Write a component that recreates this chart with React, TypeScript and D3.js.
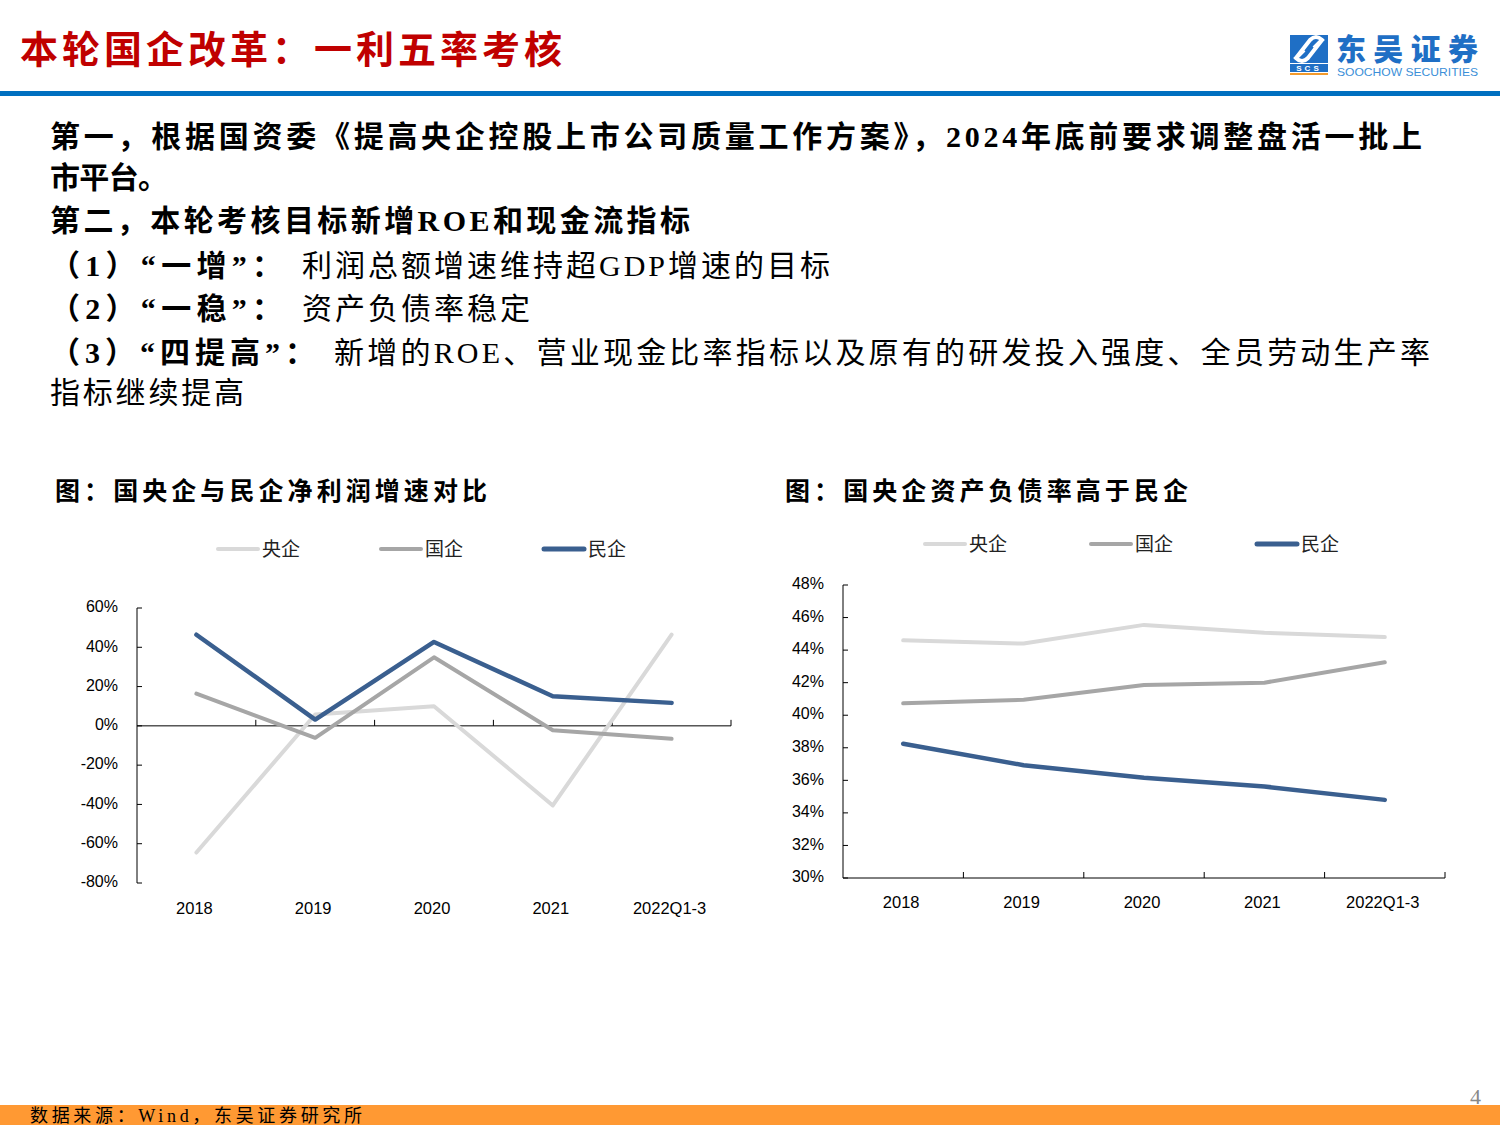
import React, { useEffect, useRef } from 'react';
import * as d3 from 'd3';

const categories = ['2018', '2019', '2020', '2021', '2022Q1-3'];
const seriesNames = ['央企', '国企', '民企'];
const seriesColors = ['#d9d9d9', '#a6a6a6', '#3a5f8f'];

// 净利润增速 (%)
const profitCentral = [-64.5, 5.8, 10.0, -40.5, 46.4];
const profitState = [16.4, -6.1, 34.9, -2.2, -6.6];
const profitPrivate = [46.4, 3.2, 42.7, 15.1, 11.7];
const profitTicks = [60, 40, 20, 0, -20, -40, -60, -80];

// 资产负债率 (%)
const debtCentral = [44.6, 44.4, 45.55, 45.07, 44.8];
const debtState = [40.73, 40.95, 41.85, 42.0, 43.25];
const debtPrivate = [38.25, 36.93, 36.16, 35.62, 34.8];
const debtTicks = [48, 46, 44, 42, 40, 38, 36, 34, 32, 30];

const CJK = '"Noto Sans CJK SC", sans-serif';
const MIXED = '"Liberation Serif", "Noto Sans CJK SC", serif';
const NUM = '"Liberation Sans", Arial, sans-serif';

type ChartCfg = {
  x0: number; x1: number; y0: number; y1: number;
  domain: [number, number];
  ticks: number[];
  series: number[][];
  zeroAxis: boolean;
  catY: number;
  legendX: number[];
  legendY: number;
};

function drawChart(g: d3.Selection<SVGGElement, unknown, null, undefined>, c: ChartCfg) {
  const x = d3.scaleBand<string>().domain(categories).range([c.x0, c.x1]);
  const y = d3.scaleLinear().domain(c.domain).range([c.y1, c.y0]);
  const baseY = c.zeroAxis ? y(0) : y(c.domain[0]);

  // y axis
  g.append('line').attr('x1', c.x0).attr('x2', c.x0).attr('y1', y(c.domain[1])).attr('y2', y(c.domain[0]))
    .attr('stroke', '#000').attr('stroke-width', 1);
  g.selectAll('.ytick').data(c.ticks).enter().append('line')
    .attr('x1', c.x0).attr('x2', c.x0 + 5).attr('y1', d => y(d)).attr('y2', d => y(d))
    .attr('stroke', '#000');
  g.selectAll('.ylab').data(c.ticks).enter().append('text')
    .attr('x', c.x0 - 19).attr('y', d => y(d)).attr('text-anchor', 'end')
    .attr('dominant-baseline', 'middle').attr('font-family', NUM).attr('font-size', 16)
    .attr('fill', '#000').text(d => `${d}%`);

  // x axis
  g.append('line').attr('x1', c.x0).attr('x2', c.x1).attr('y1', baseY).attr('y2', baseY)
    .attr('stroke', '#000').attr('stroke-width', 1);
  const bounds = categories.map((cat) => (x(cat) as number) + x.bandwidth());
  g.selectAll('.xtick').data(bounds).enter().append('line')
    .attr('x1', d => d).attr('x2', d => d).attr('y1', baseY).attr('y2', baseY - 6)
    .attr('stroke', '#000');
  g.selectAll('.xlab').data(categories).enter().append('text')
    .attr('x', d => (x(d) as number) + x.bandwidth() / 2 - 2).attr('y', c.catY)
    .attr('text-anchor', 'middle').attr('dominant-baseline', 'middle')
    .attr('font-family', NUM).attr('font-size', 16.5).attr('fill', '#000').text(d => d);

  const line = d3.line<number>()
    .x((_, i) => (x(categories[i]) as number) + x.bandwidth() / 2)
    .y(d => y(d));

  c.series.forEach((s, i) => {
    g.append('path').attr('d', line(s)).attr('fill', 'none')
      .attr('stroke', seriesColors[i]).attr('stroke-width', i === 2 ? 4.5 : 4)
      .attr('stroke-linejoin', 'round').attr('stroke-linecap', 'round');
  });

  // legend
  seriesNames.forEach((name, i) => {
    const lx = c.legendX[i];
    g.append('line').attr('x1', lx).attr('x2', lx + 40).attr('y1', c.legendY).attr('y2', c.legendY)
      .attr('stroke', seriesColors[i]).attr('stroke-width', i === 2 ? 5 : 4).attr('stroke-linecap', 'round');
    g.append('text').attr('x', lx + 44).attr('y', c.legendY + 7).attr('font-family', CJK)
      .attr('font-size', 19).attr('fill', '#222').text(name);
  });
}

export default function App() {
  const ref = useRef<SVGSVGElement>(null);

  useEffect(() => {
    if (!ref.current) return;
    const svg = d3.select(ref.current);
    svg.selectAll('*').remove();

    svg.append('rect').attr('width', 1500).attr('height', 1125).attr('fill', '#fff');

    // header
    svg.append('text').attr('x', 20).attr('y', 63).attr('font-family', CJK).attr('font-weight', 700)
      .attr('font-size', 38).attr('fill', '#c00000').attr('textLength', 542).attr('lengthAdjust', 'spacing')
      .text('本轮国企改革：一利五率考核');
    svg.append('rect').attr('x', 0).attr('y', 91).attr('width', 1500).attr('height', 5).attr('fill', '#0070c0');

    // logo
    const logo = svg.append('g');
    logo.append('rect').attr('x', 1290).attr('y', 35).attr('width', 38).attr('height', 28).attr('fill', '#1f6fc5');
    logo.append('path').attr('d', 'M1296 58 L1310 40 Q1316 34 1322 40 L1314 48 M1322 40 L1308 58 Q1302 64 1296 58 L1304 50')
      .attr('fill', 'none').attr('stroke', '#fff').attr('stroke-width', 4);
    logo.append('rect').attr('x', 1290).attr('y', 64).attr('width', 38).attr('height', 8).attr('fill', '#1f6fc5');
    logo.append('text').attr('x', 1309).attr('y', 71).attr('text-anchor', 'middle').attr('font-family', NUM)
      .attr('font-weight', 700).attr('font-size', 8).attr('fill', '#fff').attr('letter-spacing', 3).text('SCS');
    logo.append('rect').attr('x', 1290).attr('y', 73).attr('width', 38).attr('height', 2).attr('fill', '#f39a2b');
    logo.append('text').attr('x', 1336).attr('y', 60).attr('font-family', CJK).attr('font-weight', 900)
      .attr('font-size', 30).attr('fill', '#1f6fc5').attr('textLength', 142).attr('lengthAdjust', 'spacing')
      .text('东吴证券');
    logo.append('text').attr('x', 1337).attr('y', 76).attr('font-family', NUM).attr('font-size', 11)
      .attr('fill', '#3b8fd8').attr('textLength', 141).attr('lengthAdjust', 'spacingAndGlyphs')
      .text('SOOCHOW SECURITIES');

    // body text
    const body = svg.append('g').attr('fill', '#000');
    const t = (x: number, y: number, s: string, bold: boolean, len?: number) => {
      const el = body.append('text').attr('x', x).attr('y', y).attr('font-family', MIXED)
        .attr('font-size', 30).attr('font-weight', bold ? 700 : 400).text(s);
      if (len) el.attr('textLength', len).attr('lengthAdjust', 'spacing');
      return el;
    };
    t(50, 147, '第一，根据国资委《提高央企控股上市公司质量工作方案》，2024年底前要求调整盘活一批上', true, 1372);
    t(50, 188, '市平台。', true, 118);
    t(50, 231, '第二，本轮考核目标新增ROE和现金流指标', true, 640);
    t(50, 276, '（1）“一增”：', true, 232);
    t(302, 276, '利润总额增速维持超GDP增速的目标', false, 528);
    t(50, 319, '（2）“一稳”：', true, 232);
    t(302, 319, '资产负债率稳定', false, 228);
    t(50, 363, '（3）“四提高”：', true, 265);
    t(334, 363, '新增的ROE、营业现金比率指标以及原有的研发投入强度、全员劳动生产率', false, 1096);
    t(50, 403, '指标继续提高', false, 194);

    // chart titles
    svg.append('text').attr('x', 55).attr('y', 500).attr('font-family', CJK).attr('font-weight', 700)
      .attr('font-size', 25).attr('textLength', 432).attr('lengthAdjust', 'spacing').text('图：国央企与民企净利润增速对比');
    svg.append('text').attr('x', 785).attr('y', 500).attr('font-family', CJK).attr('font-weight', 700)
      .attr('font-size', 25).attr('textLength', 403).attr('lengthAdjust', 'spacing').text('图：国央企资产负债率高于民企');

    drawChart(svg.append('g'), {
      x0: 137, x1: 731, y0: 608, y1: 883, domain: [-80, 60], ticks: profitTicks,
      series: [profitCentral, profitState, profitPrivate], zeroAxis: true, catY: 910,
      legendX: [218, 381, 544], legendY: 549,
    });
    drawChart(svg.append('g'), {
      x0: 843, x1: 1445, y0: 585, y1: 878, domain: [30, 48], ticks: debtTicks,
      series: [debtCentral, debtState, debtPrivate], zeroAxis: false, catY: 904,
      legendX: [925, 1091, 1257], legendY: 544,
    });

    // footer
    svg.append('rect').attr('x', 0).attr('y', 1105).attr('width', 1500).attr('height', 20).attr('fill', '#ff9933');
    svg.append('text').attr('x', 30).attr('y', 1122).attr('font-family', MIXED).attr('font-size', 18)
      .attr('fill', '#000').attr('textLength', 332).attr('lengthAdjust', 'spacing')
      .text('数据来源：Wind，东吴证券研究所');
    svg.append('text').attr('x', 1481).attr('y', 1104).attr('text-anchor', 'end').attr('font-family', MIXED)
      .attr('font-size', 22).attr('fill', '#888').text('4');
  }, []);

  return (
    <svg ref={ref} width={1500} height={1125}
      style={{ position: 'absolute', left: 0, top: 0, display: 'block' }} />
  );
}
